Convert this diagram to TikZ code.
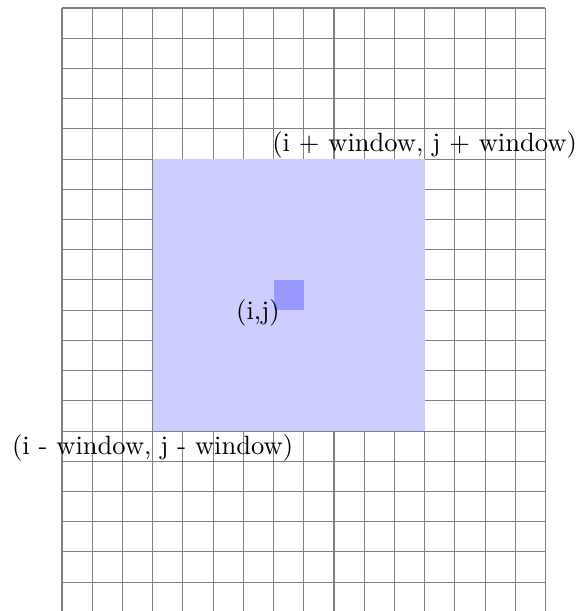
\documentclass[tikz,border=0pt]{standalone}
\begin{document}
\begin{tikzpicture}[x=0.4cm,y=0.4cm,
  gridline/.style={gray, line width=0.4pt},
  win/.style={fill=blue!20},
  cellbox/.style={fill=blue!40},
  lbl/.style={inner sep=0pt}]
\useasboundingbox (-2.052,0.045) rectangle (17.01,20.265);
\foreach \y in {1,...,20} \draw[gridline] (0,\y) -- (16,\y);
\foreach \x in {0,...,16} \draw[gridline] (\x,0) -- (\x,20);
\fill[win] (3,6) rectangle (12,15);
\fill[cellbox] (7,10) rectangle (8,11);
\node[lbl] (ij) at (6.486,9.91) {(i,j)};
\node[lbl] (hi) at (12,15.46) {(i + window, j + window)};
\node[lbl] (lo) at (3,5.457) {(i - window, j - window)};
\end{tikzpicture}
\end{document}
